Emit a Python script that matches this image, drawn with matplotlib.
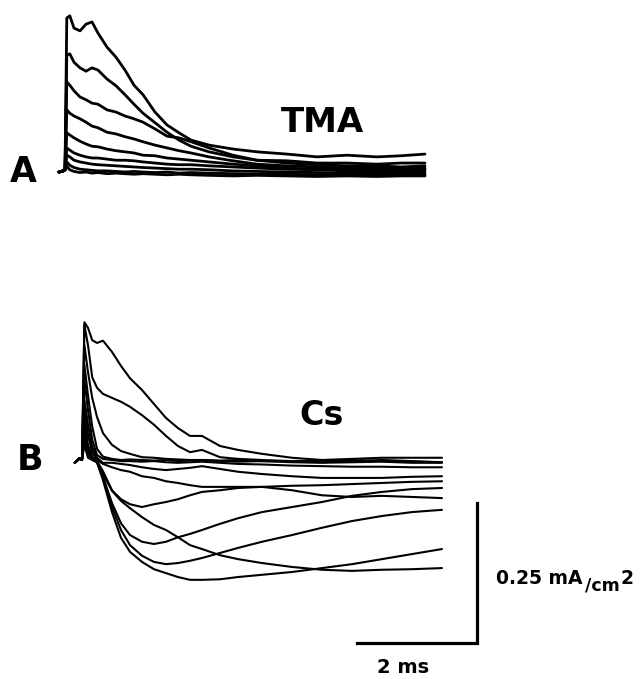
import matplotlib
matplotlib.use("Agg")
import matplotlib.pyplot as plt

# ---------------- Panel A (TMA) : time (ms) and current (mA/cm2) ----------------
t_A = [-0.1, -0.03, 0.0, 0.03, 0.08, 0.15, 0.25, 0.35, 0.45, 0.55, 0.7, 0.85, 1.0, 1.15,
       1.3, 1.5, 1.7, 1.9, 2.1, 2.4, 2.8, 3.2, 3.7, 4.2, 4.7, 5.2, 5.6, 6.0]

A1 = [0.000, 0.002, 0.004, 0.275, 0.279, 0.257, 0.252, 0.264, 0.268, 0.248, 0.223, 0.205, 0.182, 0.155,
      0.138, 0.107, 0.084, 0.070, 0.057, 0.048, 0.041, 0.036, 0.032, 0.027, 0.030, 0.027, 0.029, 0.032]
A2 = [0.000, 0.002, 0.004, 0.209, 0.211, 0.196, 0.186, 0.180, 0.186, 0.182, 0.166, 0.154, 0.138, 0.121,
      0.105, 0.088, 0.071, 0.057, 0.046, 0.036, 0.027, 0.021, 0.020, 0.016, 0.016, 0.014, 0.016, 0.016]
A3 = [0.000, 0.002, 0.004, 0.161, 0.155, 0.145, 0.134, 0.129, 0.123, 0.121, 0.111, 0.107, 0.100, 0.095,
      0.089, 0.077, 0.064, 0.061, 0.054, 0.043, 0.030, 0.021, 0.016, 0.013, 0.011, 0.011, 0.009, 0.011]
A4 = [0.000, 0.002, 0.004, 0.111, 0.105, 0.100, 0.095, 0.089, 0.082, 0.079, 0.071, 0.068, 0.063, 0.059,
      0.054, 0.048, 0.043, 0.038, 0.034, 0.027, 0.020, 0.014, 0.011, 0.009, 0.007, 0.007, 0.007, 0.007]
A5 = [0.000, 0.002, 0.004, 0.070, 0.066, 0.061, 0.055, 0.050, 0.046, 0.045, 0.041, 0.038, 0.036, 0.034,
      0.030, 0.029, 0.025, 0.023, 0.021, 0.018, 0.014, 0.011, 0.007, 0.005, 0.004, 0.004, 0.005, 0.004]
A6 = [0.000, 0.002, 0.004, 0.043, 0.039, 0.034, 0.030, 0.027, 0.025, 0.025, 0.023, 0.021, 0.021, 0.020,
      0.018, 0.016, 0.014, 0.013, 0.013, 0.011, 0.009, 0.007, 0.005, 0.004, 0.002, 0.002, 0.002, 0.002]
A7 = [0.000, 0.002, 0.004, 0.030, 0.027, 0.021, 0.018, 0.016, 0.014, 0.013, 0.012, 0.011, 0.010, 0.009,
      0.008, 0.007, 0.006, 0.005, 0.005, 0.004, 0.002, 0.001, 0.000, -0.001, -0.002, -0.001, -0.002, -0.002]
A8 = [0.000, 0.002, 0.004, 0.018, 0.012, 0.008, 0.005, 0.004, 0.003, 0.002, 0.002, 0.001, 0.000, 0.001,
      0.000, -0.001, 0.000, -0.002, -0.001, -0.002, -0.003, -0.004, -0.004, -0.005, -0.004, -0.005, -0.006, -0.005]
A9 = [0.000, 0.002, 0.004, 0.010, 0.004, 0.001, -0.001, 0.000, -0.002, -0.001, -0.003, -0.002, -0.003, -0.004,
      -0.003, -0.004, -0.005, -0.004, -0.005, -0.006, -0.007, -0.006, -0.007, -0.008, -0.007, -0.008, -0.007, -0.007]

traces_A = [A1, A2, A3, A4, A5, A6, A7, A8, A9]

# ---------------- Panel B (Cs) ----------------
t_B = [-0.12, -0.04, 0.0, 0.04, 0.1, 0.17, 0.25, 0.35, 0.5, 0.65, 0.8, 1.0, 1.2, 1.4, 1.6, 1.8,
       2.0, 2.3, 2.6, 3.0, 3.5, 4.0, 4.5, 5.0, 5.5, 6.0]

B_out1 = [-0.005, 0.003, 0.0, 0.246, 0.236, 0.214, 0.209, 0.213, 0.193, 0.168, 0.146, 0.125, 0.100, 0.075,
          0.057, 0.043, 0.043, 0.025, 0.018, 0.011, 0.004, 0.000, 0.002, 0.004, 0.004, 0.004]
B_out2 = [-0.005, 0.003, 0.0, 0.241, 0.205, 0.148, 0.129, 0.118, 0.111, 0.104, 0.095, 0.080, 0.063, 0.043,
          0.025, 0.014, 0.018, 0.005, 0.002, 0.000, -0.002, -0.004, -0.002, 0.000, -0.002, -0.004]
B_out3 = [-0.005, 0.003, 0.0, 0.205, 0.157, 0.111, 0.077, 0.048, 0.027, 0.016, 0.011, 0.005, 0.004, 0.002,
          0.001, 0.000, 0.000, -0.001, 0.000, -0.002, -0.002, -0.001, 0.000, -0.002, -0.003, -0.004]
B_flat1 = [-0.005, 0.003, 0.0, 0.143, 0.089, 0.036, 0.009, 0.002, 0.000, -0.002, -0.002, -0.003, -0.002, -0.004,
           -0.005, -0.004, -0.003, -0.005, -0.007, -0.008, -0.010, -0.011, -0.012, -0.012, -0.013, -0.013]
B_flat2 = [-0.005, 0.003, 0.0, 0.170, 0.115, 0.060, 0.020, 0.006, 0.002, 0.000, 0.001, 0.000, -0.001, 0.000,
           -0.002, -0.001, 0.000, -0.002, -0.003, -0.002, -0.004, -0.005, -0.004, -0.003, -0.005, -0.005]
B_in1 = [-0.005, 0.003, 0.0, 0.107, 0.063, 0.023, 0.004, -0.005, -0.005, -0.007, -0.009, -0.013, -0.016, -0.018,
         -0.016, -0.014, -0.011, -0.016, -0.021, -0.025, -0.029, -0.032, -0.032, -0.032, -0.030, -0.029]
B_in2 = [-0.005, 0.003, 0.0, 0.089, 0.045, 0.014, 0.000, -0.007, -0.013, -0.018, -0.021, -0.029, -0.032, -0.038,
         -0.041, -0.045, -0.048, -0.048, -0.048, -0.048, -0.046, -0.045, -0.043, -0.041, -0.039, -0.038]
B_in3 = [-0.005, 0.003, 0.0, 0.071, 0.027, 0.006, -0.002, -0.020, -0.054, -0.070, -0.079, -0.084, -0.079, -0.075,
         -0.070, -0.063, -0.057, -0.054, -0.050, -0.048, -0.054, -0.063, -0.066, -0.064, -0.066, -0.068]
B_in4 = [-0.005, 0.003, 0.0, 0.054, 0.018, 0.004, -0.004, -0.030, -0.077, -0.113, -0.134, -0.146, -0.150, -0.146,
         -0.138, -0.132, -0.125, -0.114, -0.104, -0.093, -0.084, -0.075, -0.064, -0.057, -0.052, -0.050]
B_in5 = [-0.005, 0.003, 0.0, 0.036, 0.009, 0.002, -0.004, -0.032, -0.084, -0.125, -0.152, -0.171, -0.182, -0.186,
         -0.184, -0.180, -0.175, -0.166, -0.157, -0.146, -0.134, -0.121, -0.109, -0.100, -0.093, -0.089]
B_in6 = [-0.005, 0.003, 0.0, 0.045, 0.014, 0.004, -0.004, -0.025, -0.055, -0.073, -0.086, -0.102, -0.116, -0.125,
         -0.138, -0.152, -0.159, -0.170, -0.177, -0.184, -0.191, -0.196, -0.198, -0.196, -0.195, -0.193]
B_in7 = [-0.005, 0.003, 0.0, 0.027, 0.004, 0.000, -0.004, -0.036, -0.093, -0.139, -0.164, -0.182, -0.195, -0.202,
         -0.209, -0.214, -0.214, -0.213, -0.209, -0.205, -0.200, -0.193, -0.186, -0.177, -0.168, -0.159]

traces_B = [B_out1, B_out2, B_out3, B_flat1, B_flat2, B_in1, B_in2, B_in3, B_in4, B_in5, B_in6, B_in7]

# scale bars
scale_ms = 2.0
scale_mA = 0.25
scale_label_I = "0.25 mA"
scale_label_t = "2 ms"

# ---------------- Figure ----------------
W, H = 642, 679
fig = plt.figure(figsize=(W / 100, H / 100), dpi=100)
fig.patch.set_facecolor("white")

PX_PER_MS = 60.0
PX_PER_MA = 560.0

def make_axes(x0_px, y0_px):
    ax = fig.add_axes([0, 0, 1, 1], facecolor="none")
    ax.set_xlim(-x0_px / PX_PER_MS, (W - x0_px) / PX_PER_MS)
    ax.set_ylim((y0_px - H) / PX_PER_MA, y0_px / PX_PER_MA)
    ax.axis("off")
    return ax

axA = make_axes(65, 172)
axB = make_axes(82, 460)

for tr in traces_A:
    axA.plot(t_A, tr, color="black", lw=2.0, solid_joinstyle="round", solid_capstyle="round")

for tr in traces_B:
    axB.plot(t_B, tr, color="black", lw=1.5, solid_joinstyle="round", solid_capstyle="round")

# scale bar (corner at 6.58 ms, -0.327 mA/cm2 in panel B coordinates)
cx, cy = 6.58, -0.327
axB.plot([cx - scale_ms, cx, cx], [cy, cy, cy + scale_mA], color="black", lw=2.3,
         solid_joinstyle="miter")

bold = dict(family="DejaVu Sans", weight="bold", color="black")

def ftext(xpx, ypx, s, size, **kw):
    fig.text(xpx / W, 1 - ypx / H, s, fontsize=size, ha="left", va="baseline", **bold, **kw)

ftext(10, 182, "A", 25)
ftext(17, 470, "B", 25)
ftext(281, 132, "TMA", 24.5)
ftext(299, 425, "Cs", 24)
ftext(496, 584, scale_label_I, 13.5)
ftext(585, 591, "/cm", 12.5)
ftext(621, 584, "2", 13.5)
ftext(377, 673, scale_label_t, 14)

fig.savefig("out.png", dpi=100, facecolor="white")
